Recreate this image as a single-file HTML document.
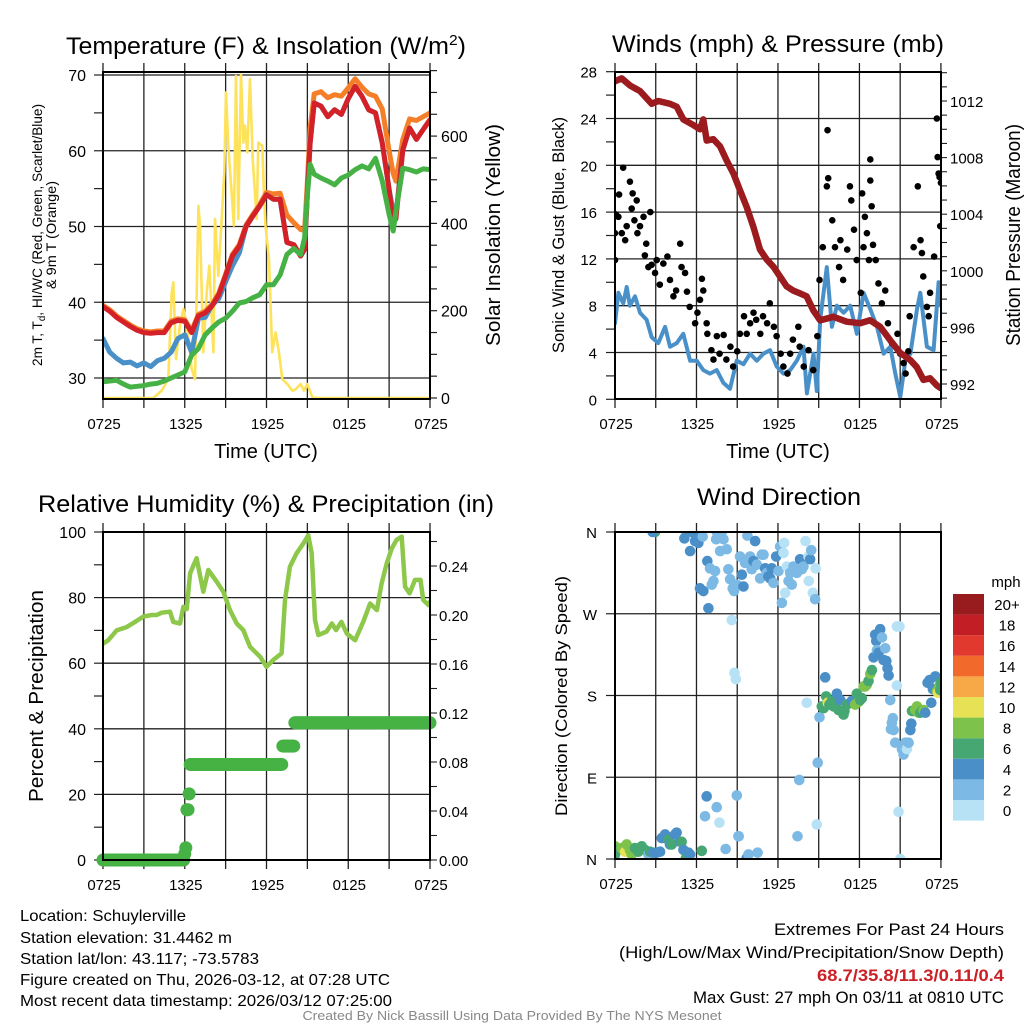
<!DOCTYPE html>
<html><head><meta charset="utf-8"><title>Mesonet Station Plot</title>
<style>
html,body{margin:0;padding:0;background:#fff;}
svg{display:block;font-family:"Liberation Sans",Arial,sans-serif;}
</style></head>
<body>
<svg id="root" width="1024" height="1024" viewBox="0 0 1024 1024" xmlns="http://www.w3.org/2000/svg">
<defs>
<clipPath id="c1"><rect x="103" y="72" width="327" height="329"/></clipPath>
<clipPath id="c2"><rect x="615" y="72" width="326" height="327"/></clipPath>
<clipPath id="c3"><rect x="103" y="532" width="327" height="328"/></clipPath>
<clipPath id="c4"><rect x="615" y="532" width="326" height="327"/></clipPath>
</defs>
<g id="p1"></g>
<g id="p2"></g>
<g id="p3"></g>
<g id="p4"></g>

<text x="266" y="54" font-size="24" text-anchor="middle" textLength="400" lengthAdjust="spacingAndGlyphs">Temperature (F) &amp; Insolation (W/m<tspan dy="-9" font-size="15">2</tspan><tspan dy="9">)</tspan></text>
<text x="778" y="52" font-size="24" text-anchor="middle" textLength="332" lengthAdjust="spacingAndGlyphs">Winds (mph) &amp; Pressure (mb)</text>
<text x="266" y="512" font-size="24" text-anchor="middle" textLength="456" lengthAdjust="spacingAndGlyphs">Relative Humidity (%) &amp; Precipitation (in)</text>
<text x="779" y="505" font-size="24" text-anchor="middle" textLength="164" lengthAdjust="spacingAndGlyphs">Wind Direction</text>

<text transform="translate(42,235) rotate(-90)" font-size="14" text-anchor="middle" textLength="262" lengthAdjust="spacingAndGlyphs">2m T, T<tspan font-size="10" dy="3">d</tspan><tspan dy="-3">, HI/WC (Red, Green, Scarlet/Blue)</tspan></text>
<text transform="translate(56,235) rotate(-90)" font-size="14" text-anchor="middle" textLength="108" lengthAdjust="spacingAndGlyphs">&amp; 9m T (Orange)</text>
<text transform="translate(500,235) rotate(-90)" font-size="20" text-anchor="middle" textLength="222" lengthAdjust="spacingAndGlyphs">Solar Insolation (Yellow)</text>
<text transform="translate(564,235) rotate(-90)" font-size="17" text-anchor="middle" textLength="236" lengthAdjust="spacingAndGlyphs">Sonic Wind &amp; Gust (Blue, Black)</text>
<text transform="translate(1020,235) rotate(-90)" font-size="20" text-anchor="middle" textLength="222" lengthAdjust="spacingAndGlyphs">Station Pressure (Maroon)</text>
<text transform="translate(43,696) rotate(-90)" font-size="20" text-anchor="middle" textLength="212" lengthAdjust="spacingAndGlyphs">Percent &amp; Precipitation</text>
<text transform="translate(567,696) rotate(-90)" font-size="17" text-anchor="middle" textLength="240" lengthAdjust="spacingAndGlyphs">Direction (Colored By Speed)</text>

<text x="266" y="458" font-size="20" text-anchor="middle">Time (UTC)</text>
<text x="778" y="458" font-size="20" text-anchor="middle">Time (UTC)</text>

<g font-size="16">
<text x="20" y="921" textLength="166" lengthAdjust="spacingAndGlyphs">Location: Schuylerville</text>
<text x="20" y="943" textLength="212" lengthAdjust="spacingAndGlyphs">Station elevation: 31.4462 m</text>
<text x="20" y="964" textLength="239" lengthAdjust="spacingAndGlyphs">Station lat/lon: 43.117; -73.5783</text>
<text x="20" y="985" textLength="370" lengthAdjust="spacingAndGlyphs">Figure created on Thu, 2026-03-12, at 07:28 UTC</text>
<text x="20" y="1006" textLength="372" lengthAdjust="spacingAndGlyphs">Most recent data timestamp: 2026/03/12 07:25:00</text>
</g>
<g font-size="17" text-anchor="end">
<text x="1004" y="935" textLength="230" lengthAdjust="spacingAndGlyphs">Extremes For Past 24 Hours</text>
<text x="1004" y="958" textLength="385" lengthAdjust="spacingAndGlyphs">(High/Low/Max Wind/Precipitation/Snow Depth)</text>
<text x="1004" y="981" textLength="187" lengthAdjust="spacingAndGlyphs" fill="#cc2027" font-weight="bold">68.7/35.8/11.3/0.11/0.4</text>
<text x="1004" y="1003" textLength="311" lengthAdjust="spacingAndGlyphs">Max Gust: 27 mph On 03/11 at 0810 UTC</text>
</g>
<text x="512" y="1020" font-size="13" fill="#888" text-anchor="middle" textLength="419" lengthAdjust="spacingAndGlyphs">Created By Nick Bassill Using Data Provided By The NYS Mesonet</text>
</svg>
<script>
// ---------- data ----------
const xTickLabels = ["0725","1325","1925","0125","0725"];
const tHours = [0,0.5,1,1.5,2,2.5,3,3.5,4,4.5,5,5.5,6,6.5,7,7.5,8,8.5,9,9.5,10,10.5,11,11.5,12,12.5,13,13.5,14,14.5,14.8,15,15.2,15.5,16,16.5,17,17.5,18,18.5,19,19.5,20,20.5,21,21.3,21.5,22,22.5,23,23.5,24];
const tempRed = [39.4,38.8,38,37.4,36.8,36.3,36,35.9,36,36,37.3,37.6,37.5,36,38.2,38.6,39.5,41,43.5,46.1,47.4,50,51.4,52.7,54.2,53.6,53.6,47.9,47.6,46.1,47,54.4,61,66.3,65.9,64.5,65.4,64.8,66.9,68.5,67.2,65.4,65,61,54.9,50.5,51,60.1,63,61.5,62.8,64.1];
const temp9m = [39.6,39,38.2,37.6,37,36.5,36.2,36.1,36.2,36.2,37.5,37.8,37.7,36.2,38.4,38.8,39.7,41.2,43.7,46.3,47.6,50.2,51.6,52.9,54.5,54.3,54.4,51.5,50.5,49.6,49.5,56,63,67.5,67.8,67,67.4,67.2,68.3,69.5,68.4,67.5,67.2,65.5,60,57,56,61.5,64.2,64,64.5,65];
const heatIdx = [35.2,33.4,32.6,32,32.1,31.6,32,31.5,32.3,32.6,33.4,35.2,35.7,33.4,37.9,38,39.6,40.5,42.7,44.8,46.5,50,51.4,52.7,54.2,53.6,53.6,47.9,47.6,46.1,47,54.4,61,66.3,65.9,64.5,65.4,64.8,66.9,68.5,67.2,65.4,65,61,54.9,52,51.5,60.1,63,61.5,62.8,64.1];
const dewPt = [29.5,29.6,29.7,29.2,28.8,28.9,29,29.2,29.3,29.6,30,30.4,30.8,33,33.9,35.7,36.6,37.4,37.9,38.8,39.9,40.1,40.6,41,42.3,42.3,43.6,46.3,47.1,46.3,48.5,54.2,58.2,56.9,56.4,56,55.5,56.4,56.8,57.5,58,57.6,59,56,51.6,49.4,52,57.7,57.5,57.2,57.6,57.5];
const solarHours = [0,3.69,4.31,4.79,5.04,5.16,5.36,5.65,5.9,6.14,6.39,6.51,6.75,7.0,7.12,7.36,7.61,7.8,8.1,8.22,8.46,8.71,8.9,9.03,9.2,9.44,9.61,9.76,9.93,10.13,10.3,10.42,10.59,10.79,10.99,11.28,11.4,11.69,11.81,11.93,12.18,12.42,12.67,12.91,13.16,13.53,13.89,14.14,14.5,14.75,14.99,15.36,15.73,24];
const solarW = [0,0,17,43,242,265,89,166,204,166,105,66,43,440,395,105,242,303,105,410,280,410,517,700,578,471,395,738,410,741,585,624,563,731,547,410,585,578,471,395,318,105,150,105,43,32,17,20,32,17,32,2,0,0];
const presHours = [0,0.49,1.1,1.84,2.7,3.19,4.05,4.54,5.03,5.77,6.26,6.5,6.75,7.24,7.73,8.22,8.71,9.2,9.7,10.19,10.68,11.17,11.66,12.15,12.64,13.13,13.62,14.11,14.6,15.1,16.08,17.06,18.04,18.78,19.52,20.26,21.0,21.73,22.22,22.71,23.2,23.7,24];
const presMb = [1013.4,1013.6,1013.1,1012.7,1011.8,1012,1011.8,1011.6,1010.7,1010.3,1010,1010.7,1009.2,1009.3,1008.8,1007.8,1006.9,1005.7,1004.5,1003.1,1001.5,1000.8,1000.3,999.6,998.9,998.6,998.4,998.2,997.2,996.5,996.75,996.4,996.3,996.5,996.05,995.1,994.2,993.7,993.2,992.3,992.4,991.9,991.7];
const windHours = [0,0.25,0.61,0.86,1.1,1.47,1.84,2.33,2.7,3.19,3.69,4.05,4.54,5.03,5.53,6.02,6.5,6.99,7.49,7.98,8.47,8.96,9.46,9.95,10.44,10.93,11.42,11.91,12.41,12.9,13.39,13.88,14.13,14.62,14.86,15.11,15.6,15.97,16.34,16.83,17.32,17.81,18.31,18.8,19.29,19.78,20.27,20.64,21.01,21.38,21.75,22.24,22.48,22.97,23.46,23.83,24];
const windMph = [6.5,9.1,8.2,9.6,8,8.8,7.4,6.8,5.3,4.8,6.2,4.5,4.8,5.6,3.3,3.3,2.5,2.2,2.5,1.4,0.9,3.3,3,3.9,3.3,3.9,4.2,2.8,2.2,2.5,3.3,4.5,0.5,3.9,0.7,6.8,11.3,6.2,8,7.4,8,5.6,9.1,7.7,6.2,3.9,4.5,2.2,0.2,3.3,3.9,7.7,9.1,4.5,4.2,10,8];
const gustHours = [0,0,0.07,0.25,0.3,0.5,0.6,0.75,0.86,1.1,1.23,1.3,1.43,1.6,1.65,1.84,2.1,2.2,2.6,2.3,2.46,2.7,2.95,3.07,3.3,3.56,3.86,4.05,4.3,4.5,4.8,4.9,5.16,5.3,5.5,5.9,6.07,6.26,6.4,6.5,6.75,6.8,7.1,7.25,7.5,7.7,8,8.2,8.5,8.7,9,9.2,9.5,9.7,9.95,10.2,10.4,10.7,10.9,11.2,11.4,11.7,11.9,12.2,12.4,12.7,12.9,13.1,13.5,13.6,13.9,14.25,14.6,14.9,15.06,15.3,15.6,15.65,15.7,16,16.2,16.5,16.6,16.8,17.1,17.3,17.4,17.6,17.8,18.1,18.2,18.3,18.4,18.55,18.7,18.8,18.8,18.9,19,19.2,19.4,19.65,19.9,20.1,20.4,20.8,21,21.25,21.4,21.6,21.7,21.99,22.3,22.5,22.6,22.7,22.97,23.1,23.2,23.5,23.7,23.76,23.83,23.9,23.95,24];
const gustMph = [11.9,14.2,15.8,15.6,17.5,14.2,19.8,13.6,14.8,18.6,16.3,17.6,15.3,17,14.2,14.8,15.6,12.3,16,13.3,11.3,11.5,10.8,11.9,9.8,11.6,12.2,10.2,8.8,9.3,13.3,11.3,10.8,9.2,7.9,6.5,7.4,8.5,10.3,9.3,6.5,5.6,4.2,3.4,5.4,3.9,5.5,3.4,4.5,2.8,4.1,5.6,7.1,5.6,6.5,7.4,6.8,5.6,7.1,6.5,8.2,6.2,5.4,3.9,2.8,2.2,3.9,5.1,6.2,4.5,2.8,4.2,2.5,5.4,10.2,13,18.2,23,18.9,15.3,13,11.3,13.6,10.2,12.8,18.2,17,14.5,11.9,9.1,17.6,13,15.6,14.2,11.9,20.5,18.7,16.5,13.2,11.9,9.9,8.2,9.3,6.5,4.8,5.6,3.9,3.1,2.2,4.1,7.1,13,18.2,13.6,12.5,10.5,7.9,7.1,9.1,12.2,24,20.7,19.3,19,14.8,18.5];
const rhHours = [0.03,0.39,1.0,1.73,2.35,2.96,3.57,3.94,4.3,4.92,5.16,5.65,5.9,6.14,6.39,6.87,7.36,7.73,8.34,8.83,9.32,9.81,10.3,10.79,11.52,12.0,12.5,13.11,13.36,13.72,14.21,14.7,15.07,15.32,15.56,15.8,16.4,16.8,17.1,17.5,17.9,18.5,19.1,19.6,20.1,20.45,20.82,21.2,21.55,21.92,22.17,22.5,22.9,23.3,23.5,23.9,24];
const rhPct = [66,67,70,71,72.6,74.2,74.7,74.7,75.4,75.7,72.6,72.1,77.2,76.5,87.4,92,81.8,88.4,84.9,81.8,76.2,72.1,70.1,65,62,58.9,61,63,79.3,89.4,93.5,96.5,99,93.5,73.2,68.6,69.6,72.1,70.1,72.6,69,67,72.6,78.2,76.2,84.3,90.4,95,97.6,98.6,83.3,81.3,85.4,85.4,79.3,77.7,78.7];
const precipChangeHours = [0,5.95,6.05,6.15,6.25,6.4,13.15,14.05];
const precipChangeIn = [0,0.005,0.01,0.041,0.054,0.078,0.093,0.112];
const dirHours = [0,0,0.25,0.49,0.74,0.86,1.1,1.23,1.47,1.72,1.97,2.21,2.46,2.58,2.83,3.07,3.32,3.44,3.69,3.93,4.05,4.18,4.42,4.54,4.79,4.91,5.04,5.23,5.41,5.53,2.95,2.77,6.39,8.15,9.09,9.7,9.83,10.5,
5.11,5.28,5.53,5.77,5.9,6.14,6.26,6.51,6.46,6.8,6.88,7.0,7.13,7.25,7.37,7.5,7.45,7.74,7.86,7.99,8.23,8.35,8.48,8.67,8.77,8.97,9.21,9.34,9.46,9.58,9.75,9.95,10.07,10.2,10.32,10.45,10.69,10.81,10.94,11.06,11.18,11.3,11.43,11.55,11.67,11.87,12.04,12.16,12.29,12.41,12.46,12.53,12.65,12.78,12.9,13.02,13.14,13.39,13.63,13.76,13.88,14.03,14.25,14.37,14.45,14.57,14.74,14.77,14.27,
8.6,8.8,8.9,6.75,8.97,6.63,7.49,7.69,9.11,13.44,13.57,14.12,14.86,14.93,15.06,
15.23,15.36,15.48,15.55,15.67,15.79,15.97,16.1,16.34,16.46,16.59,16.83,16.9,17.08,17.32,17.44,17.69,17.81,17.94,18.06,18.18,18.31,18.43,18.55,18.67,18.8,18.92,19.04,19.16,19.24,19.29,19.41,19.53,19.66,19.78,19.9,19.98,20.07,20.15,20.27,20.39,20.46,20.32,20.52,20.64,20.76,20.95,20.76,20.88,21.01,21.13,21.25,21.38,21.5,21.62,21.75,21.82,21.87,21.99,22.11,22.24,22.36,22.48,22.6,22.73,22.85,23.02,23.17,23.29,23.41,23.59,23.71,23.78,23.9,24.0,23.95];
const dirDeg = [5,14,10,12,8,16,10,5,12,8,14,10,5,8,7,7,8,23,27,21,16,16,27,29,19,19,10,1,7,5,360,360,9,11,25,1,5,7,
353,360,339,359,350,348,298,295,355,328,276,320,302,306,317,360,352,339,360,352,341,319,308,298,295,302,333,313,300,326,356,333,319,328,350,324,309,335,335,320,315,311,309,320,304,333,317,344,282,337,348,293,322,306,315,302,322,315,330,319,322,350,333,330,340,293,286,320,306,
263,205,198,69,70,47,57,40,25,25,87,172,38,106,156,
168,166,200,179,172,170,174,168,182,164,175,159,163,170,172,174,170,182,173,175,177,190,190,192,196,204,208,222,247,240,230,227,253,244,219,232,218,210,202,175,150,155,143,142,128,256,256,191,52,0,121,115,128,121,128,142,149,163,163,164,168,161,161,163,164,161,194,197,172,187,201,185,183,191,194,186];
const dirSpeed = [6,8,7,8,10,8,8,8,6,7,6,6,3,6,4,4,4,4,4,6,4,7,4,4,4,7,4,6,4,4,6,5,7,3,3,4,3,3,
4,4,4,4,4,4,4,4,3,4,4,3,3,3,3,3,3,3,3,3,3,3,3,3,3,3,3,4,4,3,3,3,3,4,4,3,3,3,3,4,3,4,4,4,3,4,3,3,3,1,1,1,1,3,3,3,3,3,4,3,3,1,1,4,3,1,3,1,1,
1,1,1,4,3,3,3,1,3,3,3,1,1,3,3,
6,7,4,7,10,6,7,6,4,6,4,6,7,6,7,4,8,6,8,6,7,8,8,8,7,8,7,4,4,4,3,4,4,3,4,3,4,4,4,3,3,3,3,3,3,1,1,1,1,1,3,3,3,1,3,4,4,7,7,8,8,8,6,6,8,4,4,4,4,4,4,8,10,8,7,6];
const speedBinLabels = ["0","2","4","6","8","10","12","14","16","18","20+"];
const speedBinColors = ["#b7e2f6","#7cb9e4","#4a8fc7","#47a772","#7cc24b","#e6e155","#f6a946","#f2692c","#e1392d","#c21e26","#981b1e"];

// ---------- helpers ----------
const NS = "http://www.w3.org/2000/svg";
function mk(parent, tag, attrs, name) {
  const el = document.createElementNS(NS, tag);
  for (const k in attrs) el.setAttribute(k, attrs[k]);
  
  
  parent.appendChild(el);
  return el;
}
function txt(parent, x, y, s, size, anchor, name) {
  const t = mk(parent, "text", {x: x, y: y, "font-size": size, "text-anchor": anchor}, name);
  t.textContent = s;
  return t;
}
function poly(parent, xs, ys, sx, sy, color, w, clip, name) {
  const pts = xs.map((h, i) => sx(h).toFixed(1) + "," + sy(ys[i]).toFixed(1)).join(" ");
  return mk(parent, "polyline", {points: pts, fill: "none", stroke: color, "stroke-width": w, "stroke-linejoin": "round", "stroke-linecap": "round", "clip-path": clip}, name);
}
function frame(g, x0, x1, y0, y1, sx) {
  for (let h = 3; h < 24; h += 3) mk(g, "line", {x1: sx(h), x2: sx(h), y1: y0, y2: y1, stroke: "#222", "stroke-width": 1.3}, "x-grid-line");
  for (let h = 0; h <= 24; h += 3) {
    mk(g, "line", {x1: sx(h), x2: sx(h), y1: y1, y2: y1 + 9, stroke: "#222", "stroke-width": 1.3}, "x-tick");
    mk(g, "line", {x1: sx(h), x2: sx(h), y1: y0 - 9, y2: y0, stroke: "#222", "stroke-width": 1.3}, "x-tick-top");
  }
  xTickLabels.forEach((s, i) => {
    txt(g, sx(i * 6) + 1, y1 + 30, s, 15, "middle", "x-tick-label");
  });
}
function hgrid(g, x0, x1, y, name) {
  mk(g, "line", {x1: x0, x2: x1, y1: y, y2: y, stroke: "#222", "stroke-width": 1.3}, name);
}
function border(g, x0, x1, y0, y1) {
  mk(g, "rect", {x: x0, y: y0, width: x1 - x0, height: y1 - y0, fill: "none", stroke: "#000", "stroke-width": 2}, "plot-frame");
}

// ---------- panel 1 ----------
(function () {
  const g = document.getElementById("p1");
  const sx = h => 103 + h * 13.625;
  const sT = v => 75 + (70 - v) * 7.575;
  const sS = w => 398 - w * 0.4365;
  frame(g, 103, 430, 72, 399, sx);
  for (let v = 30; v <= 70; v += 10) { hgrid(g, 103, 430, sT(v), "temp-grid-line"); txt(g, 86, sT(v) + 6, String(v), 16, "end", "temp-tick-label"); }
  for (let v = 30; v <= 70; v += 5) mk(g, "line", {x1: 94, x2: 103, y1: sT(v), y2: sT(v), stroke: "#222", "stroke-width": 1.2}, "temp-tick");
  for (let w = 0; w <= 750; w += 50) mk(g, "line", {x1: 430, x2: 437, y1: sS(w), y2: sS(w), stroke: "#222", "stroke-width": 1.2}, "solar-tick");
  for (let w = 0; w <= 600; w += 200) txt(g, 441, sS(w) + 6, String(w), 16, "start", "solar-tick-label");
  poly(g, solarHours, solarW, sx, sS, "#fde25a", 2.6, "url(#c1)", "solar-line");
  poly(g, tHours, temp9m, sx, sT, "#f57f29", 5, "url(#c1)", "temp-9m-line");
  poly(g, tHours, heatIdx, sx, sT, "#4a90c8", 5, "url(#c1)", "heat-index-line");
  poly(g, tHours, tempRed, sx, sT, "#d42027", 5, "url(#c1)", "temp-2m-line");
  poly(g, tHours, dewPt, sx, sT, "#46b245", 5, "url(#c1)", "dewpoint-line");
  border(g, 103, 430, 72, 399);
})();

// ---------- panel 2 ----------
(function () {
  const g = document.getElementById("p2");
  const sx = h => 615 + h * 13.58;
  const sW = v => 399.3 - v * 11.7;
  const sP = p => 384 - (p - 992) * 14.15;
  frame(g, 615, 941, 72, 399, sx);
  for (let v = 0; v <= 28; v += 4) { if (v > 0 && v < 28) hgrid(g, 615, 941, sW(v), "wind-grid-line"); txt(g, 597, sW(v) + 6, String(v), 15, "end", "wind-tick-label"); }
  for (let v = 0; v <= 28; v += 2) mk(g, "line", {x1: 606, x2: 615, y1: sW(v), y2: sW(v), stroke: "#222", "stroke-width": 1.2}, "wind-tick");
  for (let p = 991; p <= 1014; p += 1) mk(g, "line", {x1: 941, x2: 947, y1: sP(p), y2: sP(p), stroke: "#222", "stroke-width": 1.1}, "pressure-tick");
  for (let p = 992; p <= 1012; p += 4) txt(g, 950, sP(p) + 6, String(p), 15, "start", "pressure-tick-label");
  poly(g, windHours, windMph, sx, sW, "#4a90c8", 4, "url(#c2)", "sonic-wind-line");
  gustHours.forEach((h, i) => {
    mk(g, "circle", {cx: sx(h), cy: sW(gustMph[i]), r: 3.3, fill: "#000", "clip-path": "url(#c2)"}, "gust-point");
  });
  poly(g, presHours, presMb, sx, sP, "#9b1b1e", 6.5, "url(#c2)", "pressure-line");
  border(g, 615, 941, 72, 399);
})();

// ---------- panel 3 ----------
(function () {
  const g = document.getElementById("p3");
  const sx = h => 103 + h * 13.625;
  const sR = v => 860 - v * 3.28;
  const sPr = p => 860 - p * 1225;
  frame(g, 103, 430, 532, 860, sx);
  for (let v = 0; v <= 100; v += 20) { if (v > 0 && v < 100) hgrid(g, 103, 430, sR(v), "rh-grid-line"); txt(g, 86, sR(v) + 6, String(v), 16, "end", "rh-tick-label"); }
  for (let v = 0; v <= 100; v += 10) mk(g, "line", {x1: 94, x2: 103, y1: sR(v), y2: sR(v), stroke: "#222", "stroke-width": 1.2}, "rh-tick");
  for (let k = 0; k <= 26; k += 2) mk(g, "line", {x1: 430, x2: 437, y1: sPr(k / 100), y2: sPr(k / 100), stroke: "#222", "stroke-width": 1.1}, "precip-tick");
  for (let k = 0; k <= 24; k += 4) txt(g, 439, sPr(k / 100) + 6, (k / 100).toFixed(2), 15, "start", "precip-tick-label");
  poly(g, rhHours, rhPct, sx, sR, "#8dc84a", 4.5, "url(#c3)", "rh-line");
  for (let h = 0; h <= 24.001; h += 0.08) {
    let v = 0;
    precipChangeHours.forEach((c, i) => { if (h >= c) v = precipChangeIn[i]; });
    mk(g, "circle", {cx: sx(h), cy: sPr(v), r: 6.5, fill: "#46b245"}, "precip-point");
  }
  border(g, 103, 430, 532, 860);
})();

// ---------- panel 4 ----------
(function () {
  const g = document.getElementById("p4");
  const sx = h => 615 + h * 13.58;
  const sD = d => 859 - d * 327 / 360;
  frame(g, 615, 941, 532, 859, sx);
  const lbl = ["N", "E", "S", "W", "N"];
  for (let i = 0; i <= 4; i++) {
    const d = i * 90;
    if (i > 0 && i < 4) hgrid(g, 615, 941, sD(d), "direction-grid-line");
    mk(g, "line", {x1: 606, x2: 615, y1: sD(d), y2: sD(d), stroke: "#222", "stroke-width": 1.2}, "direction-tick");
    txt(g, 597, sD(d) + 6, lbl[i], 15, "end", "direction-tick-label");
  }
  dirHours.forEach((h, i) => {
    const bin = Math.min(10, Math.floor(dirSpeed[i] / 2));
    mk(g, "circle", {cx: sx(h), cy: sD(dirDeg[i]), r: 5.3, fill: speedBinColors[bin], "clip-path": "url(#c4)"}, "direction-point");
  });
  border(g, 615, 941, 532, 859);
  const cb = mk(g, "g", {}, "speed-colorbar");
  txt(cb, 1006, 587, "mph", 15, "middle", "colorbar-unit-label");
  speedBinColors.forEach((c, i) => {
    const k = 10 - i;
    mk(cb, "rect", {x: 953, y: 594 + k * 20.6, width: 31, height: 20.6, fill: c}, "colorbar-swatch");
    txt(cb, 1007, 594 + k * 20.6 + 16, speedBinLabels[i], 15, "middle", "colorbar-label");
  });
})();
</script>
</body></html>
